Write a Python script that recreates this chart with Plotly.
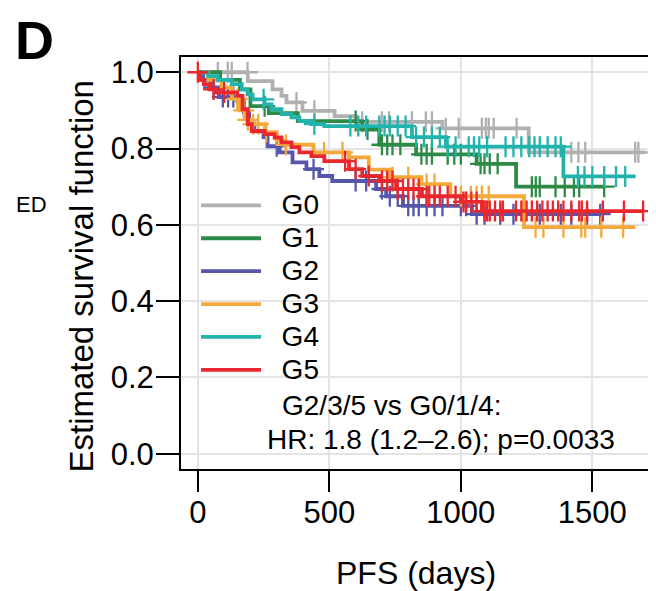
"""
Kaplan-Meier panel D: PFS by group G0-G5
"""

import plotly.graph_objects as go

# ── Data ──────────────────────────────────────────────────────────────────────

GROUPS = ["G0", "G1", "G2", "G3", "G4", "G5"]
COLORS = ["#b0b0b0", "#2e8b47", "#5656aa", "#f4a93a", "#22b3ad", "#e8282e"]

G0_TIMES = [0, 190, 284, 318, 337, 398, 520, 600, 930, 1258]
G0_SURV = [1.0, 0.977, 0.955, 0.938, 0.921, 0.899, 0.885, 0.87, 0.853, 0.79]
G0_END = 1700
G0_CENSOR = [76, 114, 129, 189, 375, 443, 625, 700, 727, 814, 867, 890, 943, 992,
             1080, 1095, 1106, 1125, 1212, 1420, 1447, 1473, 1663, 1675]

G1_TIMES = [0, 85, 160, 200, 270, 380, 625, 690, 830, 1060, 1210]
G1_SURV = [1.0, 0.98, 0.955, 0.911, 0.893, 0.872, 0.85, 0.81, 0.785, 0.76, 0.70]
G1_END = 1545
G1_CENSOR = [254, 600, 645, 700, 720, 740, 770, 850, 870, 890, 950, 975, 1000,
             1075, 1090, 1110, 1140, 1270, 1285, 1300, 1360, 1395, 1430, 1450, 1545]

G2_TIMES = [0, 20, 50, 80, 150, 175, 195, 215, 250, 265, 311, 360, 413, 462, 511,
            678, 716, 780, 1042]
G2_SURV = [1.0, 0.98, 0.96, 0.935, 0.925, 0.895, 0.865, 0.845, 0.83, 0.806, 0.79,
           0.764, 0.746, 0.728, 0.715, 0.694, 0.675, 0.65, 0.628]
G2_END = 1530
G2_CENSOR = [60, 95, 115, 135, 300, 440, 600, 640, 700, 730, 760, 800, 820, 840,
             870, 900, 930, 1000, 1020, 1060, 1090, 1150, 1200, 1300, 1380, 1420,
             1480, 1530]

G3_TIMES = [0, 40, 90, 130, 160, 185, 200, 255, 300, 330, 440, 575, 650, 730, 850,
            960, 1240]
G3_SURV = [1.0, 0.98, 0.96, 0.93, 0.9, 0.875, 0.864, 0.843, 0.82, 0.81, 0.79, 0.777,
           0.745, 0.725, 0.707, 0.675, 0.594]
G3_END = 1663
G3_CENSOR = [150, 175, 190, 210, 230, 260, 335, 480, 550, 740, 800, 870, 900, 1000,
             1038, 1060, 1080, 1106, 1284, 1314, 1390, 1458, 1473, 1534, 1617]

G4_TIMES = [0, 40, 76, 129, 167, 189, 208, 254, 280, 318, 356, 386, 432, 481, 814,
            943, 1390]
G4_SURV = [1.0, 0.99, 0.98, 0.969, 0.955, 0.942, 0.929, 0.916, 0.903, 0.89, 0.882,
           0.872, 0.864, 0.859, 0.83, 0.805, 0.727]
G4_END = 1663
G4_CENSOR = [250, 443, 580, 610, 640, 690, 710, 730, 760, 790, 830, 860, 890, 920,
             950, 980, 1030, 1050, 1070, 1100, 1170, 1200, 1230, 1260, 1280, 1300,
             1330, 1360, 1380, 1445, 1470, 1500, 1545, 1590, 1625]

G5_TIMES = [0, 8, 23, 45, 68, 150, 170, 190, 205, 254, 292, 318, 356, 386, 432, 481,
            575, 625, 690, 754, 852, 1000, 1080]
G5_SURV = [1.0, 0.98, 0.969, 0.955, 0.947, 0.938, 0.903, 0.864, 0.846, 0.838, 0.829,
           0.816, 0.804, 0.79, 0.78, 0.767, 0.746, 0.728, 0.715, 0.694, 0.675, 0.66,
           0.636]
G5_END = 1693
G5_CENSOR = [0, 60, 100, 560, 600, 650, 700, 720, 740, 760, 780, 800, 820, 840, 870,
             880, 900, 920, 950, 980, 1010, 1020, 1040, 1060, 1090, 1100, 1110, 1130,
             1150, 1160, 1210, 1230, 1250, 1270, 1290, 1310, 1330, 1350, 1370, 1390,
             1420, 1450, 1460, 1480, 1540, 1620, 1693]

X_TICKS = [0, 500, 1000, 1500]
Y_TICKS = [0.0, 0.2, 0.4, 0.6, 0.8, 1.0]
Y_TICKTEXT = ["0.0", "0.2", "0.4", "0.6", "0.8", "1.0"]

STAT_LINE1 = "G2/3/5 vs G0/1/4:"
STAT_LINE2 = "HR: 1.8 (1.2\u20132.6); p=0.0033"

CURVES = [
    (G0_TIMES, G0_SURV, G0_END, G0_CENSOR),
    (G1_TIMES, G1_SURV, G1_END, G1_CENSOR),
    (G2_TIMES, G2_SURV, G2_END, G2_CENSOR),
    (G3_TIMES, G3_SURV, G3_END, G3_CENSOR),
    (G4_TIMES, G4_SURV, G4_END, G4_CENSOR),
    (G5_TIMES, G5_SURV, G5_END, G5_CENSOR),
]

FONT = "Liberation Sans, Arial, Helvetica, sans-serif"


# ── Helpers ───────────────────────────────────────────────────────────────────

def surv_at(t, times, surv):
    # value of the KM step function at time t
    val = surv[0]
    for ti, si in zip(times, surv):
        if ti <= t:
            val = si
    return val


# ── Figure ────────────────────────────────────────────────────────────────────

fig = go.Figure()

for name, color, (times, surv, end, censor) in zip(GROUPS, COLORS, CURVES):
    # legend rows are spaced by the (smaller) legend font; label drawn larger
    label = "<span style='font-size:28px'>\u00a0\u00a0" + name + "</span>"
    fig.add_trace(go.Scatter(
        x=times + [end], y=surv + [surv[-1]],
        mode="lines", line=dict(color=color, width=3.8, shape="hv"),
        name=label, legendgroup=name,
    ))
    fig.add_trace(go.Scatter(
        x=censor, y=[surv_at(t, times, surv) for t in censor],
        mode="markers",
        marker=dict(symbol="cross-thin", size=15, color=color,
                    line=dict(color=color, width=2.3)),
        showlegend=False, legendgroup=name,
    ))

axis_common = dict(
    showline=True, linecolor="black", linewidth=2, mirror=True,
    ticks="outside", tickcolor="black", tickwidth=2,
    showgrid=True, gridcolor="#e4e4e4", gridwidth=2, zeroline=False,
    tickfont=dict(family=FONT, size=31, color="black"),
)

fig.update_xaxes(range=[-64, 1723], tickvals=X_TICKS, ticklen=21,
                 ticklabelstandoff=-6, **axis_common)
fig.update_yaxes(range=[-0.04, 1.04], tickvals=Y_TICKS, ticktext=Y_TICKTEXT,
                 ticklen=23, ticklabelstandoff=-4, **axis_common)

annots = [
    # panel letter: box top kept on the page edge
    dict(text="<b>D</b>", x=-0.358, y=1.118, xanchor="left", yanchor="top",
         font=dict(size=54)),
    dict(text="ED", x=-0.356, y=0.641, xanchor="left", yanchor="middle",
         font=dict(size=22)),
    dict(text="Estimated survival function", x=-0.212, y=0.468, textangle=-90,
         xanchor="center", yanchor="middle", font=dict(size=33)),
    dict(text="PFS (days)", x=0.5, y=-0.252, xanchor="center", yanchor="middle",
         font=dict(size=32)),
    dict(text=STAT_LINE1, x=0.21, y=0.153, xanchor="left", yanchor="middle",
         font=dict(size=28)),
    dict(text=STAT_LINE2, x=0.178, y=0.0704, xanchor="left", yanchor="middle",
         font=dict(size=28)),
]
for a in annots:
    a.update(xref="paper", yref="paper", showarrow=False)
    a["font"].update(family=FONT, color="black")
fig.update_layout(annotations=annots)

# page body has an 8px default margin, so the figure is 8px smaller
fig.update_layout(
    width=648, height=583,
    margin=dict(l=173, r=3, t=49, b=122),
    plot_bgcolor="white", paper_bgcolor="white",
    font=dict(family=FONT, color="black"),
    legend=dict(
        x=0.032, y=0.692, xanchor="left", yanchor="top",
        bgcolor="rgba(0,0,0,0)", borderwidth=0,
        font=dict(family=FONT, size=23, color="black"),
        itemwidth=60, tracegroupgap=0,
    ),
    showlegend=True,
)

fig.write_html("out.html")
